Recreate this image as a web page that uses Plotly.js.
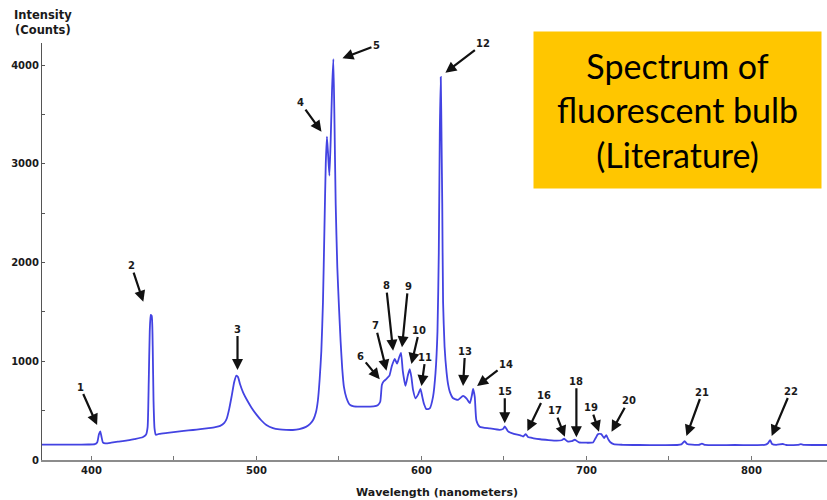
<!DOCTYPE html>
<html>
<head>
<meta charset="utf-8">
<script src="https://cdn.plot.ly/plotly-3.0.1.min.js"></script>
<style>html,body{margin:0;padding:0;background:#fff;}#chart{width:827px;height:500px;}</style>
</head>
<body>
<div id="chart"></div>
<script>
// Spectrum: wavelength (nm) and intensity (counts)
const wavelength = [
370,380,390,398,402,403.5,404.5,405.3,406,407,408.5,412,416,421,426,431,433,434,434.7,435.3,435.9,436.5,437.1,437.6,438.2,439,
441,446,451,456,461.5,466,471,475,478,480.5,482,483.5,485,486.5,487.8,488.8,490,492,494.5,497,500,503,506,510,514,518,522,526,530,
532.5,534.5,536,537.2,538.3,539.3,540.3,541.2,542,542.7,543.4,544.2,545,545.8,546.6,547.3,548,549,550,551,552,553,554.5,556.5,
559,563,567,571,573.5,575,576,577,578,579.2,580.6,582,583.8,585.2,586.5,587.6,588.7,590.3,591.8,592.9,593.9,594.9,596.4,598,
599.4,600.5,601.5,603,605,607,608.5,609.7,610.5,611.1,611.7,612.2,612.6,613.1,614,615.2,616.2,617.2,619.2,622.2,625.2,627.5,
629.3,630.5,631.3,632.3,633.3,635.3,641.4,647.5,649.5,650.5,652.5,656,660,661.6,663.2,664.6,668,672,677,682,685,686.5,688.5,
691,693,695.5,700,704,705.5,707,709,710.7,712,713.2,714.5,716.5,722,732,745,755,757.5,759.5,761,764,768,770,772,780,790,800,
808,810,811.3,812.5,815,819,821,828,830,832,840,846
];
const intensity = [
155,155,156,157,160,180,260,290,240,175,168,175,185,196,212,230,255,330,800,1300,1470,1460,1150,600,320,255,
265,275,285,295,304,313,323,333,345,375,420,520,650,790,855,840,770,680,600,530,460,400,354,323,310,305,304,313,335,
365,410,480,600,820,1100,1600,2350,3000,3275,3100,2880,3250,3750,4060,3400,2600,1950,1550,1200,920,740,630,560,
542,540,540,542,555,590,760,795,810,830,855,950,1025,975,1040,1085,900,750,860,920,840,710,625,665,
720,640,570,515,523,640,880,1300,2100,3300,3880,3200,2600,1600,1150,890,760,690,625,610,650,620,
575,650,720,640,400,337,320,305,315,340,290,265,250,238,262,232,220,210,202,196,200,215,188,
190,205,178,175,178,220,262,262,222,252,210,180,160,154,152,151,152,158,190,162,155,153,165,153,151,152,151,
153,170,202,162,153,162,152,154,160,153,152,152
];

// Peak labels: number, arrow tip wavelength (nm), arrow tip intensity (counts)
const peakLabels = ['1','2','3','4','5','6','7','8','9','10','11','12','13','14','15','16','17','18','19','20','21','22'];
const peakTipNm = [403.4,431.4,488.5,539.4,552.1,574.7,578.8,582.8,588.2,593.9,600,614.5,625.2,633.7,650.5,664.2,686.9,693.9,707.6,715.2,760.6,812.3];
const peakTipCounts = [354,1603,911,3325,4068,817,905,1107,1141,972,749,3922,749,749,372,294,236,230,287,287,243,243];
// label offsets from the arrow tip (pixels)
const labelOffsets = [[-17,-38],[-12,-36],[0,-41],[-21,-29],[34,-13],[-19,-23],[-11,-45],[-7,-65],[6,-61],[8,-34],[4,-29],
  [38,-29],[2,-35],[29,-22],[0,-32],[17,-35],[-10,-26],[0,-56],[-8,-24],[17,-31],[16,-44],[19,-45]];

const xTicks = [400,450,500,550,600,650,700,750,800];
const xTickText = ['400','','500','','600','','700','','800'];
const yTicks = [0,500,1000,1500,2000,2500,3000,3500,4000];
const yTickText = ['0','','1000','','2000','','3000','','4000'];

const boldFont = {family:'DejaVu Sans', size:10, color:'#1a1a1a', weight:'bold'};

const annotations = peakLabels.map((t,i)=>({
  x: peakTipNm[i], y: peakTipCounts[i], xref:'x', yref:'y',
  text: t, showarrow:true, ax: labelOffsets[i][0], ay: labelOffsets[i][1],
  arrowhead:2, arrowsize:1, arrowwidth:2.2, arrowcolor:'#111', standoff:0,
  font: boldFont
}));

annotations.push({
  xref:'paper', yref:'paper', x:0.001, y:1.05, xanchor:'center', yanchor:'middle',
  text:'Intensity<br>(Counts)', showarrow:false,
  font:{family:'DejaVu Sans', size:11.5, color:'#1a1a1a', weight:'bold'}
});
annotations.push({
  xref:'paper', yref:'paper', x:0.503, y:-0.077, xanchor:'center', yanchor:'middle',
  text:'Wavelength (nanometers)', showarrow:false,
  font:{family:'DejaVu Sans', size:11, color:'#1a1a1a', weight:'bold'}
});
annotations.push({
  xref:'paper', yref:'paper', x:0.6255, y:1.0288, xanchor:'left', yanchor:'top',
  text:'Spectrum of<br>fluorescent bulb<br>(Literature)', showarrow:false,
  bgcolor:'#FFC600', width:287, height:156, borderpad:0, align:'center', valign:'middle',
  font:{family:'Lato', size:34, color:'#000'}
});

const trace = {
  x: wavelength, y: intensity, type:'scatter', mode:'lines',
  line:{color:'#4343E2', width:1.8, shape:'spline', smoothing:0.5},
  hoverinfo:'skip'
};

const layout = {
  width:827, height:500,
  margin:{l:42, r:0, t:43, b:40},
  paper_bgcolor:'#fff', plot_bgcolor:'#fff',
  showlegend:false,
  xaxis:{range:[370,845.8], showgrid:false, zeroline:false, showline:true, linecolor:'#8c8c8c', linewidth:2,
    ticks:'inside', ticklen:4, tickcolor:'#777', tickwidth:1,
    tickvals:xTicks, ticktext:xTickText, tickfont:boldFont, fixedrange:true},
  yaxis:{range:[0,4223], showgrid:false, zeroline:false, showline:true, linecolor:'#555', linewidth:1,
    ticks:'inside', ticklen:3, tickcolor:'#555', tickwidth:1,
    tickvals:yTicks, ticktext:yTickText, tickfont:boldFont, fixedrange:true},
  annotations: annotations
};

Plotly.newPlot('chart', [trace], layout, {displayModeBar:false, staticPlot:true});
</script>
</body>
</html>
